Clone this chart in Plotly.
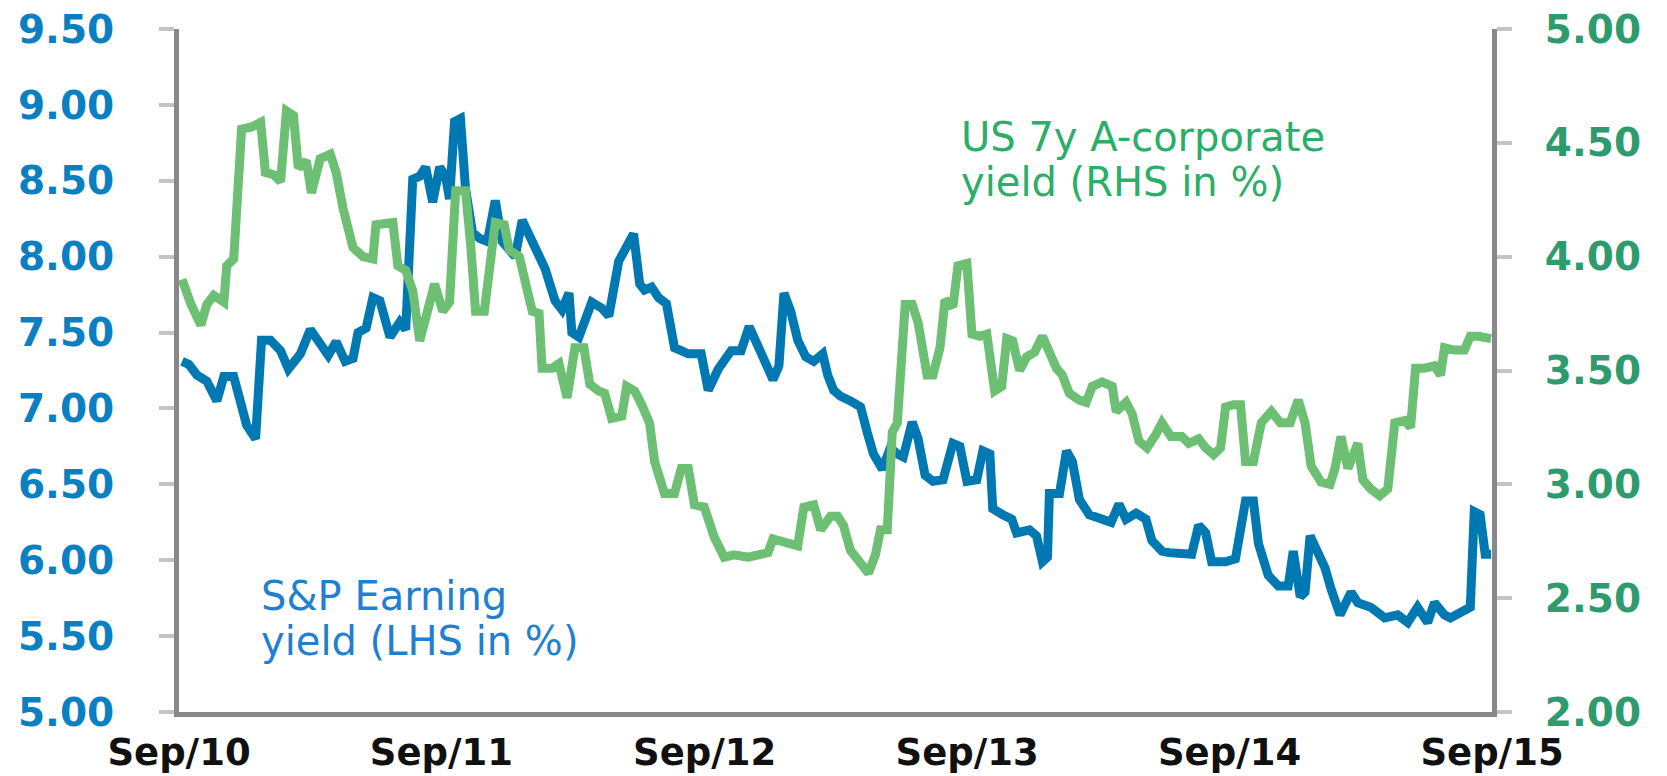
import pandas as pd
import plotly.graph_objects as go

# x positions: months elapsed since Sep 2010
sp_months = [0.14,0.45,0.82,1.27,1.73,2.05,2.50,2.82,3.09,3.50,
             3.77,4.18,4.64,5.00,5.55,6.00,6.45,6.82,7.18,7.59,
             7.95,8.18,8.55,8.86,9.18,9.64,10.09,10.36,10.68,11.00,
             11.27,11.59,11.91,12.18,12.36,12.59,12.86,13.09,13.41,13.73,
             14.09,14.45,14.77,15.09,15.36,15.68,16.00,16.27,16.73,17.18,
             17.50,17.82,17.95,18.27,18.86,19.32,19.64,20.09,20.55,20.77,
             21.05,21.27,21.59,21.91,22.27,22.64,23.27,23.86,24.18,24.64,
             25.23,25.68,26.05,26.45,26.91,27.14,27.41,27.64,27.95,28.27,
             28.64,29.00,29.41,29.64,29.91,30.23,30.68,31.14,31.45,31.73,
             32.14,32.50,32.82,33.09,33.50,33.77,34.09,34.45,34.91,35.36,
             35.68,36.00,36.45,36.73,37.05,37.18,37.64,38.05,38.27,38.86,
             39.18,39.45,39.68,39.77,40.23,40.55,40.82,41.14,41.59,42.18,
             42.59,42.95,43.27,43.73,44.18,44.45,44.91,45.23,45.68,46.27,
             46.59,46.91,47.18,47.82,48.27,48.73,49.09,49.32,49.77,50.23,
             50.68,50.91,51.23,51.45,51.68,52.00,52.36,52.64,53.05,53.55,
             53.86,54.45,55.09,55.68,56.14,56.59,57.05,57.36,57.82,58.09,
             58.55,59.00,59.18,59.45,59.68,59.95]
sp_earning_yield = [7.31,7.29,7.22,7.18,7.05,7.21,7.21,7.03,6.89,6.80,
                    7.45,7.45,7.38,7.26,7.36,7.52,7.43,7.35,7.44,7.31,
                    7.33,7.50,7.53,7.73,7.71,7.47,7.57,7.52,8.51,8.53,
                    8.59,8.36,8.59,8.53,8.38,8.89,8.91,8.45,8.16,8.12,
                    8.10,8.37,8.10,8.04,8.00,8.24,8.15,8.06,7.92,7.71,
                    7.65,7.76,7.50,7.47,7.70,7.66,7.61,7.97,8.10,8.15,
                    7.82,7.78,7.80,7.73,7.69,7.40,7.36,7.36,7.12,7.26,
                    7.38,7.38,7.54,7.40,7.24,7.19,7.28,7.76,7.64,7.45,
                    7.34,7.31,7.36,7.22,7.12,7.08,7.05,7.01,6.84,6.70,
                    6.60,6.74,6.70,6.68,6.91,6.80,6.56,6.52,6.53,6.77,
                    6.75,6.52,6.53,6.72,6.70,6.34,6.30,6.27,6.18,6.20,
                    6.16,5.99,6.02,6.44,6.44,6.72,6.65,6.40,6.30,6.27,
                    6.25,6.37,6.27,6.31,6.27,6.13,6.06,6.05,6.04,6.04,
                    6.23,6.18,5.99,5.99,6.01,6.39,6.39,6.11,5.90,5.83,
                    5.83,6.06,5.76,5.79,6.16,6.06,5.95,5.81,5.64,5.79,
                    5.72,5.69,5.62,5.64,5.59,5.69,5.59,5.72,5.64,5.62,
                    5.66,5.69,6.32,6.30,6.04,6.04]

corp_months = [0.14,0.55,1.00,1.27,1.59,2.05,2.18,2.50,2.86,3.32,
               3.73,3.95,4.32,4.64,4.91,5.23,5.45,5.82,6.05,6.45,
               6.91,7.18,7.50,7.95,8.41,8.86,9.00,9.45,9.77,10.00,
               10.36,10.68,11.00,11.27,11.68,12.05,12.36,12.64,13.09,13.32,
               13.55,13.95,14.18,14.45,14.86,15.09,15.55,15.82,16.14,16.45,
               16.59,17.05,17.36,17.73,18.09,18.50,18.77,19.18,19.45,19.77,
               20.23,20.45,20.82,21.14,21.50,21.73,22.18,22.64,22.95,23.27,
               23.55,24.00,24.45,24.91,25.36,26.00,26.59,26.91,27.14,27.50,
               27.95,28.27,28.55,29.00,29.32,29.77,30.09,30.36,30.68,31.14,
               31.50,31.82,32.05,32.36,32.59,32.82,33.18,33.50,33.77,34.18,
               34.45,34.77,35.00,35.36,35.59,36.00,36.23,36.59,36.91,37.27,
               37.59,37.82,38.09,38.41,38.73,39.09,39.45,39.77,40.09,40.36,
               40.68,41.14,41.45,41.73,42.18,42.64,42.82,43.27,43.55,43.86,
               44.23,44.64,44.91,45.32,45.82,46.14,46.59,46.91,47.27,47.59,
               47.82,48.18,48.50,48.73,49.09,49.45,49.91,50.32,50.77,51.14,
               51.45,51.73,52.18,52.59,52.82,53.09,53.41,53.86,54.09,54.45,
               54.86,55.23,55.55,56.00,56.27,56.50,56.91,57.36,57.64,57.82,
               58.27,58.73,59.00,59.36,59.95]
corp_yield = [3.90,3.79,3.70,3.79,3.83,3.80,3.96,3.99,4.56,4.57,
              4.59,4.37,4.36,4.33,4.64,4.62,4.39,4.42,4.28,4.43,
              4.45,4.37,4.21,4.04,4.00,3.99,4.14,4.15,4.15,3.96,
              3.94,3.85,3.63,3.73,3.88,3.76,3.80,4.29,4.29,4.06,
              3.76,3.76,3.94,4.15,4.14,4.03,4.00,3.87,3.76,3.75,
              3.51,3.51,3.53,3.38,3.60,3.60,3.44,3.41,3.40,3.29,
              3.30,3.43,3.41,3.35,3.27,3.10,2.96,2.96,3.07,3.07,
              2.91,2.90,2.77,2.68,2.69,2.68,2.69,2.70,2.76,2.75,
              2.73,2.73,2.90,2.91,2.80,2.86,2.86,2.82,2.71,2.66,
              2.61,2.69,2.80,2.80,3.23,3.27,3.79,3.79,3.71,3.48,
              3.48,3.60,3.81,3.78,3.96,3.97,3.66,3.65,3.66,3.41,
              3.43,3.64,3.63,3.50,3.56,3.58,3.65,3.58,3.51,3.48,
              3.40,3.37,3.36,3.43,3.45,3.43,3.32,3.36,3.31,3.19,
              3.16,3.22,3.27,3.21,3.21,3.18,3.20,3.16,3.13,3.16,
              3.34,3.35,3.35,3.10,3.10,3.27,3.32,3.27,3.27,3.37,
              3.27,3.08,3.01,3.00,3.07,3.21,3.07,3.18,3.02,2.98,
              2.95,2.98,3.27,3.28,3.25,3.51,3.51,3.52,3.48,3.60,
              3.59,3.59,3.65,3.65,3.64]

tick_dates = ["2010-09-01", "2011-09-01", "2012-09-01", "2013-09-01", "2014-09-01", "2015-09-01"]
tick_labels = ["Sep/10", "Sep/11", "Sep/12", "Sep/13", "Sep/14", "Sep/15"]
lhs_ticks = [5.0, 5.5, 6.0, 6.5, 7.0, 7.5, 8.0, 8.5, 9.0, 9.5]
rhs_ticks = [2.0, 2.5, 3.0, 3.5, 4.0, 4.5, 5.0]

start = pd.Timestamp("2010-09-01")
def to_dates(months):
    return [start + pd.Timedelta(days=m * 30.4375) for m in months]

BLUE = "#0079b2"
GREEN = "#6cbf73"
AXIS = "#888888"
TICK = "#c4c4c4"
FONT = "DejaVu Sans"

fig = go.Figure()
fig.add_trace(go.Scatter(x=to_dates(sp_months), y=sp_earning_yield, mode="lines",
                         line=dict(color=BLUE, width=9), name="S&P Earning yield",
                         yaxis="y"))
fig.add_trace(go.Scatter(x=to_dates(corp_months), y=corp_yield, mode="lines",
                         line=dict(color=GREEN, width=9), name="US 7y A-corporate yield",
                         yaxis="y2"))

fig.update_layout(
    width=1659, height=768,
    margin=dict(l=171, r=175, t=21, b=64),
    paper_bgcolor="white", plot_bgcolor="white",
    showlegend=False,
    xaxis=dict(type="date", range=[tick_dates[0], tick_dates[-1]],
               tickvals=tick_dates, ticktext=tick_labels, automargin=False,
               showline=True, linecolor=AXIS, linewidth=5,
               ticks="", showgrid=False, zeroline=False,
               ticklabelstandoff=4, ticklabeloverflow="allow",
               tickfont=dict(family=FONT, size=37, color="#111111", weight="bold")),
    yaxis=dict(range=[5, 9.5], tickvals=lhs_ticks, tickformat=".2f", automargin=False,
               showline=True, linecolor=AXIS, linewidth=5,
               ticks="outside", ticklen=15, tickwidth=4, tickcolor=TICK,
               showgrid=False, zeroline=False, ticklabelstandoff=37,
               ticklabeloverflow="allow",
               tickfont=dict(family=FONT, size=39, color="#0a7fc1", weight="bold")),
    yaxis2=dict(range=[2, 5], tickvals=rhs_ticks, tickformat=".2f", automargin=False,
                overlaying="y", side="right",
                showline=True, linecolor=AXIS, linewidth=5,
                ticks="outside", ticklen=15, tickwidth=4, tickcolor=TICK,
                showgrid=False, zeroline=False, ticklabelstandoff=25,
                ticklabeloverflow="allow",
                tickfont=dict(family=FONT, size=39, color="#2e9b6e", weight="bold")),
)

ann_green = dict(family=FONT, size=40, color="#2aae6a")
ann_blue = dict(family=FONT, size=40, color="#1f80d2")
for text, yp in [("US 7y A-corporate", 0.842), ("yield (RHS in %)", 0.776)]:
    fig.add_annotation(text=text, xref="paper", yref="paper", x=0.594, y=yp,
                       xanchor="left", yanchor="middle", showarrow=False, font=ann_green)
for text, yp in [("S&P Earning", 0.170), ("yield (LHS in %)", 0.104)]:
    fig.add_annotation(text=text, xref="paper", yref="paper", x=0.0610, y=yp,
                       xanchor="left", yanchor="middle", showarrow=False, font=ann_blue)

fig.write_html("out.html")
